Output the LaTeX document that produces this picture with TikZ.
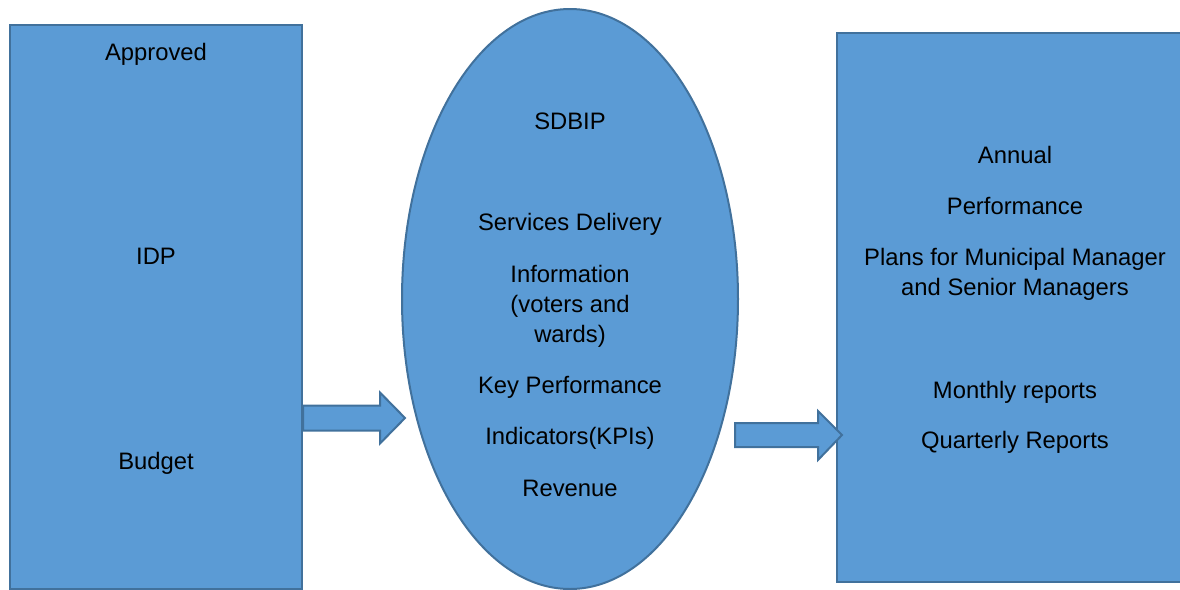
\documentclass[tikz,border=0pt]{standalone}
\usepackage{fontspec}
\setmainfont{Liberation Sans}
\usepackage{xcolor}
\usetikzlibrary{shapes.geometric}

\definecolor{panelfill}{HTML}{5B9BD5}
\definecolor{panelline}{HTML}{41719C}

\begin{document}
\begin{tikzpicture}[x=0.5pt,y=-0.5pt, every node/.style={font=\fontsize{11.9}{15}\selectfont}, panel/.style={draw=panelline,fill=panelfill,line width=1pt,inner sep=0pt}, txt/.style={align=center,inner sep=0pt}, blockarrow/.style={draw=panelline,fill=panelfill,line width=1pt,line join=miter}]
\useasboundingbox (0,0) rectangle (1180,590);
% the three shapes
\node[panel,minimum width=146pt,minimum height=282pt] (left) at (156,307) {};
\node[panel,ellipse,minimum width=168pt,minimum height=290pt] (sdbipshape) at (570,299) {};
\node[panel,minimum width=172.5pt,minimum height=274.5pt] (right) at (1009.5,307.5) {};
% left texts
\node[txt] (approved) at (156,54) {Approved};
\node[txt] (idp) at (156,256) {IDP};
\node[txt] (budget) at (156,463) {Budget};
% ellipse texts
\node[txt] (sdbip) at (570,121) {SDBIP};
\node[txt] (services) at (570,224) {Services Delivery};
\node[txt] (info) at (570,306) {Information\\(voters and\\wards)};
\node[txt] (kpi) at (570,387) {Key Performance};
\node[txt] (indicators) at (570,438) {Indicators(KPIs)};
\node[txt] (revenue) at (570,488) {Revenue};
% right texts
\node[txt] (annual) at (1015,155) {Annual};
\node[txt] (performance) at (1015,206) {Performance};
\node[txt] (plans) at (1015,274) {Plans for Municipal Manager\\and Senior Managers};
\node[txt] (monthly) at (1015,392) {Monthly reports};
\node[txt] (quarterly) at (1015,442) {Quarterly Reports};
% block arrows
\coordinate (in1) at (left.east |- 0,418);
\coordinate (out1) at (405,418);
\coordinate (in2) at (735,435);
\coordinate (out2) at (842,435);
\draw[blockarrow] (in1) ++(0,-12.5) -- ++(77,0) -- ++(0,-13) -- (out1) -- ++(-25,25.5) -- ++(0,-13) -- ++(-77,0) -- cycle;
\draw[blockarrow] (in2) ++(0,-12) -- ++(83,0) -- ++(0,-12) -- (out2) -- ++(-24,25) -- ++(0,-13) -- ++(-83,0) -- cycle;
\end{tikzpicture}
\end{document}
